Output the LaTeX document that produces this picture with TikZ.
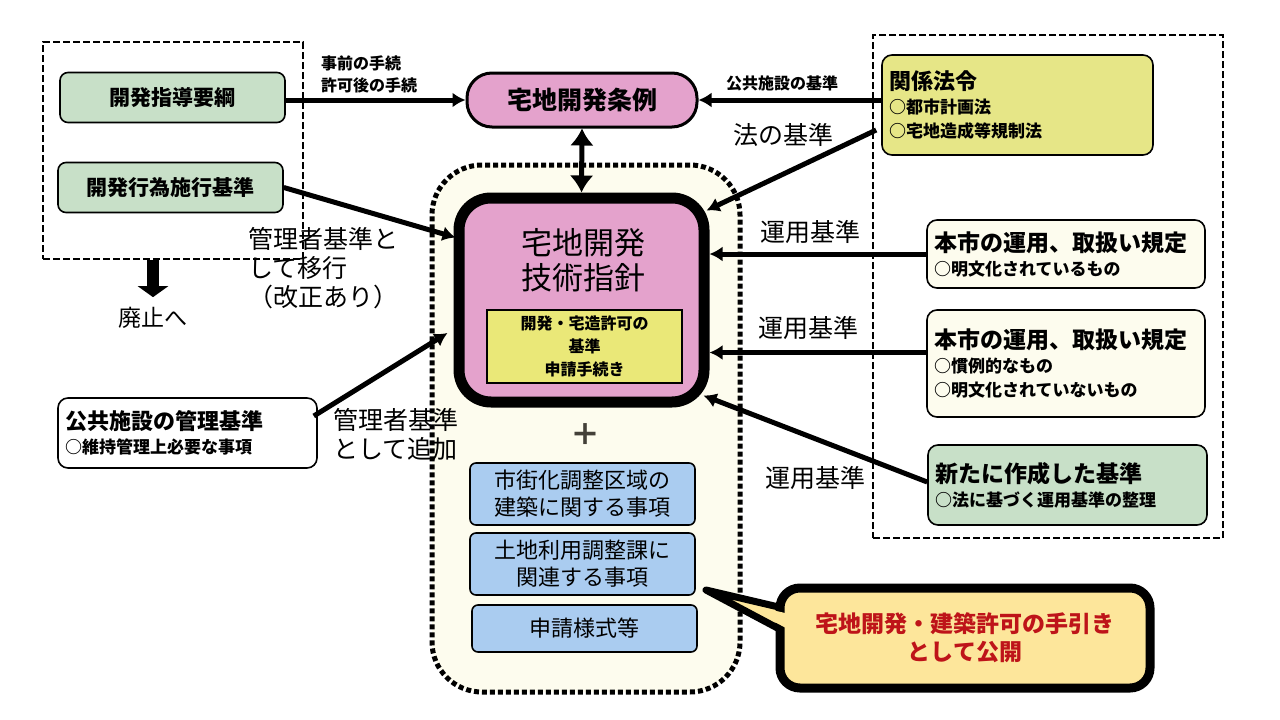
\documentclass[tikz,border=0pt]{standalone}
\usepackage{fontspec}
\newfontfamily\jp{Noto Sans CJK JP}
\usetikzlibrary{arrows.meta,calc}
\definecolor{gfill}{RGB}{200,224,200}
\definecolor{pfill}{RGB}{228,162,204}
\definecolor{yfill}{RGB}{230,230,135}
\definecolor{iyfill}{RGB}{234,232,120}
\definecolor{bfill}{RGB}{170,204,240}
\definecolor{cream}{RGB}{253,252,238}
\definecolor{cfill}{RGB}{253,230,155}
\definecolor{tred}{RGB}{190,20,25}
\begin{document}
\begin{tikzpicture}[x=1pt,y=-1pt,
  every node/.style={font=\jp, inner sep=3pt},
  dbox/.style={draw, line width=2pt, dash pattern=on 7pt off 3pt},
  gbox/.style={draw, line width=1.6pt, fill=gfill, rounded corners=8pt, minimum width=225pt, minimum height=50pt, font=\jp\bfseries\fontsize{21}{24}\selectfont},
  rbox/.style={draw, line width=1.6pt, rounded corners=10pt, inner sep=7pt, align=left, font=\jp\bfseries\fontsize{17}{24}\selectfont},
  bbox/.style={draw, line width=1.6pt, fill=bfill, rounded corners=6pt, minimum width=225pt, align=center, font=\jp\fontsize{22}{27}\selectfont},
  lbl/.style={font=\jp\fontsize{25}{29}\selectfont},
  slbl/.style={font=\jp\bfseries\fontsize{16}{22}\selectfont},
  arr/.style={line width=5pt, -{Latex[length=13pt,width=15pt]}},
]
\fill[white] (0,0) rectangle (1280,720);
\useasboundingbox (0,0) rectangle (1280,720);

% groups
\node[dbox, minimum width=260pt, minimum height=217pt] (lgrp) at (173,150.5) {};
\node[dbox, minimum width=350pt, minimum height=503pt] (rgrp) at (1048,286.5) {};
\node[draw, line width=5pt, dash pattern=on 5pt off 3pt, fill=cream, rounded corners=50pt,
      minimum width=308pt, minimum height=527pt] (cont) at (586,428.5) {};

% left boxes
\node[gbox] (ksy) at (172.5,97.5) {開発指導要綱};
\node[gbox] (kh2) at (170.5,187.5) {開発行為施行基準};
\node[slbl, anchor=west, align=left] (jizen) at (318,74) {事前の手続\\許可後の手続};

% ordinance
\node[draw, line width=3pt, fill=pfill, rounded corners=25pt, minimum width=230pt, minimum height=54pt,
      font=\jp\bfseries\fontsize{25}{28}\selectfont] (jorei) at (582,100) {宅地開発条例};
\node[slbl] (kousetsu) at (782,83) {公共施設の基準};

% related laws
\node[rbox, fill=yfill, text width=257pt, minimum height=100pt] (kankei) at (1017.5,105)
  {{\fontsize{22}{24}\selectfont 関係法令}\\○都市計画法\\○宅地造成等規制法};

% main guideline
\node[draw, line width=11pt, fill=pfill, rounded corners=32pt, minimum width=245pt, minimum height=204pt] (main) at (581.5,300) {};
\node[font=\jp\fontsize{31}{35}\selectfont, align=center] (mtitle) at (583,260.5) {宅地開発\\技術指針};
\node[draw, line width=1.5pt, fill=iyfill, minimum width=195pt, minimum height=73pt, align=center,
      font=\jp\bfseries\fontsize{16}{23}\selectfont] (inner) at (584.5,346.5) {開発・宅造許可の\\基準\\申請手続き};

% right boxes
\node[rbox, fill=cream, text width=264pt, minimum height=68pt] (r1) at (1066,254)
  {{\fontsize{23}{24}\selectfont 本市の運用、取扱い規定}\\○明文化されているもの};
\node[rbox, fill=cream, text width=264pt, minimum height=107pt] (r2) at (1066,363.5)
  {{\fontsize{23}{24}\selectfont 本市の運用、取扱い規定}\\○慣例的なもの\\○明文化されていないもの};
\node[rbox, fill=gfill, text width=265pt, minimum height=80pt] (shin) at (1067.5,485)
  {{\fontsize{23}{24}\selectfont 新たに作成した基準}\\○法に基づく運用基準の整理};

% public facilities management
\node[rbox, fill=white, text width=245pt, minimum height=70pt] (kanri) at (187.5,433)
  {{\fontsize{22}{24}\selectfont 公共施設の管理基準}\\○維持管理上必要な事項};

% blue boxes
\node[font=\jp\bfseries\fontsize{30}{32}\selectfont, text=black!85!yellow] (plus) at (585,435) {＋};
\node[bbox, minimum height=62pt] (b1) at (582.5,494) {市街化調整区域の\\建築に関する事項};
\node[bbox, minimum height=62pt] (b2) at (582.5,564) {土地利用調整課に\\関連する事項};
\node[bbox, minimum height=47pt] (b3) at (584.5,628.5) {申請様式等};

% labels
\node[lbl] (hou) at (783,135) {法の基準};
\node[lbl] (un1) at (810,232) {運用基準};
\node[lbl] (un2) at (808,328) {運用基準};
\node[lbl] (un3) at (815,478) {運用基準};
\node[lbl, anchor=west, align=left, inner sep=0pt] (iko) at (248,268.5) {管理者基準と\\して移行\\（改正あり）};
\node[lbl, anchor=west, align=left, inner sep=0pt] (tsuika) at (333,434) {管理者基準\\として追加};
\node[font=\jp\fontsize{23}{26}\selectfont] (haishi) at (153,318) {廃止へ};

% connector end points
\coordinate (r2a) at ($(r2.west)+(0,-11)$);
\coordinate (kha) at ($(main.north west)+(2,45)$);
\coordinate (kka) at ($(kankei.west)+(-5,25)$);
\coordinate (kkb) at ($(main.north east)+(-3,18)$);
\coordinate (sha) at ($(shin.west)+(0,-3)$);
\coordinate (shb) at ($(main.south east)+(-6,-12)$);
\coordinate (kna) at ($(kanri.east)+(-4,-17)$);
\coordinate (knb) at ($(main.west)+(-6,33)$);

% connectors
\draw[arr] (ksy.east |- jorei.west) -- (jorei.west);
\draw[arr] (kankei.west |- jorei.east) -- (jorei.east);
\draw[line width=5pt, {Latex[length=17pt,width=24pt]}-{Latex[length=17pt,width=24pt]}] (jorei.south) -- (main.north);
\draw[arr] (kh2.east) -- (kha);
\draw[arr] (kka) -- (kkb);
\draw[arr] (r1.west) -- (r1.west -| main.east);
\draw[arr] (r2a) -- (r2a -| main.east);
\draw[arr] (sha) -- (shb);
\draw[arr] (kna) -- (knb);
\draw[line width=12pt, -{Triangle[length=11pt,width=30pt]}, shorten >=7pt] (lgrp.south -| haishi.north) -- (haishi.north);

% callout
\fill[cfill, draw=black, line width=7pt, line join=round] (706,590) -- (800,612) -- (800,640) -- cycle;
\node[draw, line width=9pt, fill=cfill, rounded corners=20pt, minimum width=370pt, minimum height=100pt,
      align=center, text=tred, font=\jp\bfseries\fontsize{23}{28}\selectfont] (callout) at (965,638)
      {宅地開発・建築許可の手引き\\として公開};
\fill[cfill] (770,609.5) -- (800,616.5) -- (800,635.5) -- (770,619.5) -- cycle;
\end{tikzpicture}
\end{document}
